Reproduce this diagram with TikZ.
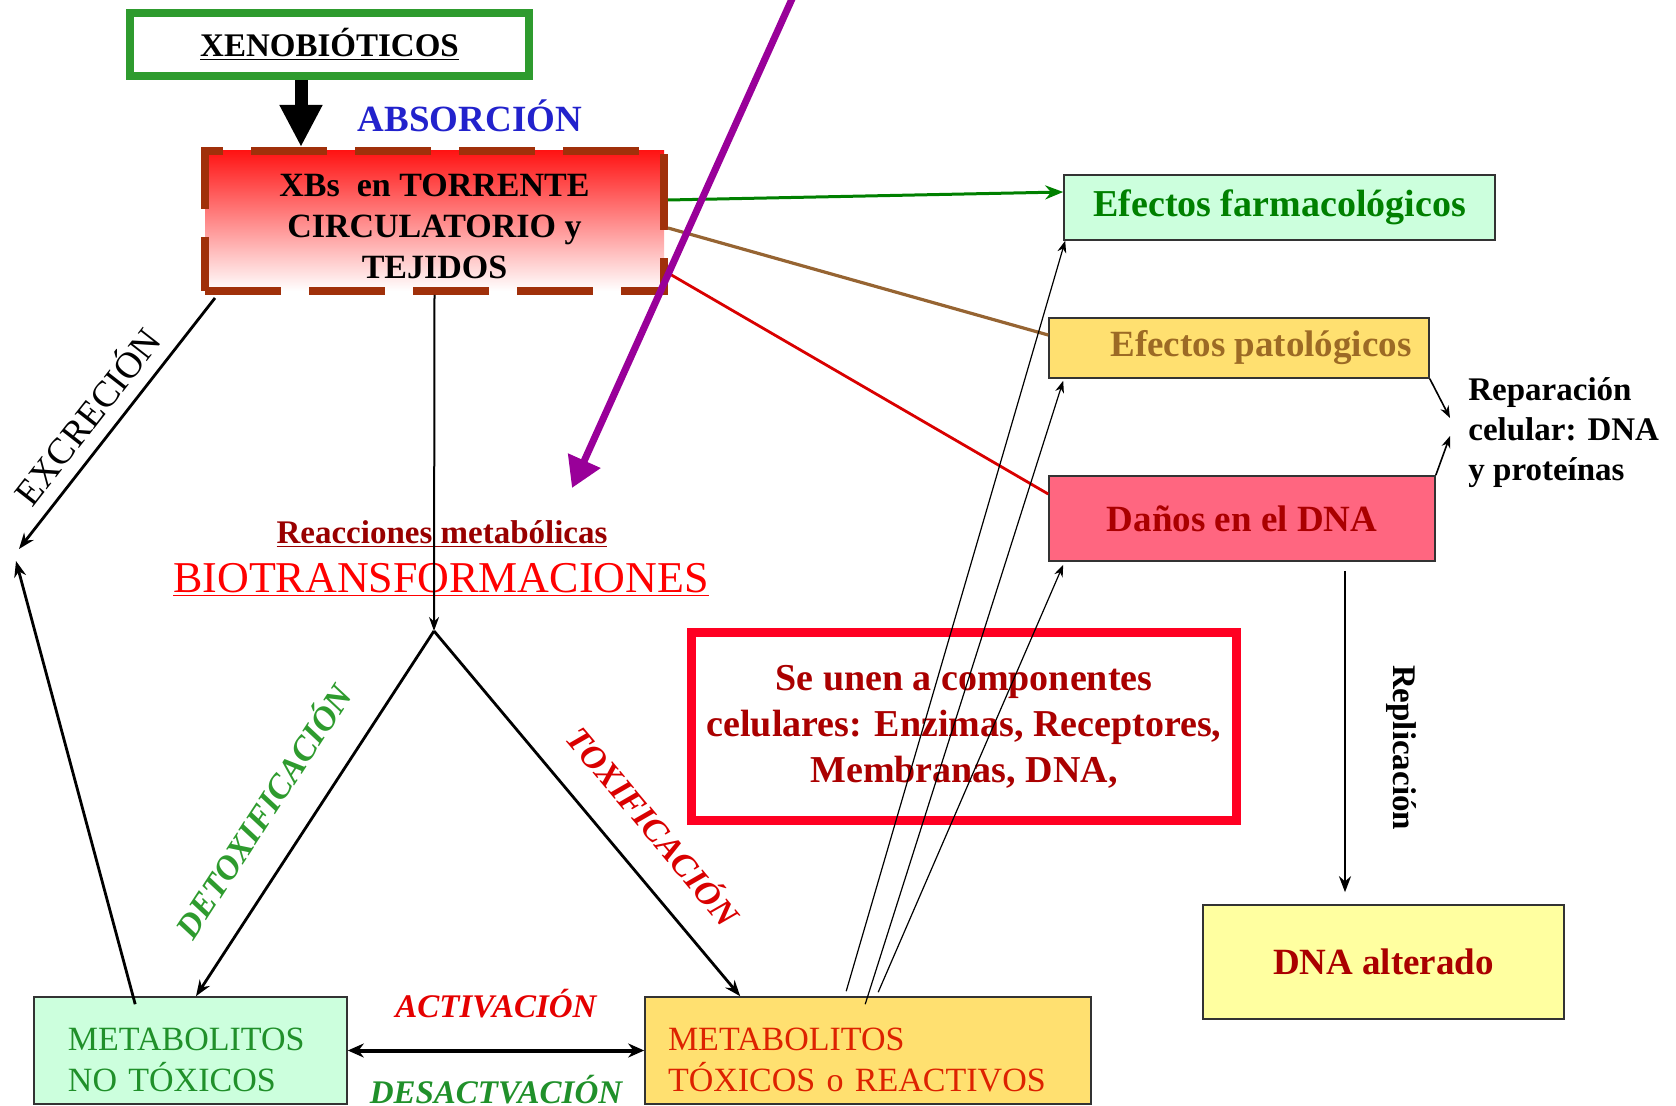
\documentclass[tikz,border=0pt]{standalone}
\usepackage{fontspec}
\setmainfont{Liberation Serif}
\usetikzlibrary{arrows.meta}

\definecolor{boxgreen}{RGB}{46,155,46}
\definecolor{absblue}{RGB}{34,34,204}
\definecolor{dashbrown}{RGB}{160,48,10}
\definecolor{mintfill}{RGB}{204,255,221}
\definecolor{goldfill}{RGB}{255,224,112}
\definecolor{pinkfill}{RGB}{255,102,128}
\definecolor{paleyellow}{RGB}{255,255,160}
\definecolor{darkred}{RGB}{170,0,0}
\definecolor{textgreen}{RGB}{0,128,0}
\definecolor{metagreen}{RGB}{32,144,42}
\definecolor{metared}{RGB}{221,34,0}
\definecolor{patobrown}{RGB}{156,106,37}
\definecolor{linebrown}{RGB}{150,100,50}
\definecolor{purplearrow}{RGB}{153,0,153}
\definecolor{boxred}{RGB}{255,0,34}
\definecolor{edgegray}{RGB}{51,51,51}

\tikzset{
  effect/.style={draw=edgegray, line width=0.8pt, inner sep=0pt, font=\fontsize{18.5}{22}\selectfont\bfseries},
  metabox/.style={draw=edgegray, line width=0.8pt, align=left, inner ysep=0pt, font=\fontsize{17}{20.5}\selectfont},
  thinarrow/.style={-{Stealth[length=6pt,width=4.5pt]}, line width=0.6pt},
  flowarrow/.style={-{Stealth[length=8pt,width=6pt]}, line width=1.4pt},
  pathlabel/.style={sloped, font=\fontsize{17}{20}\selectfont\bfseries\itshape},
}

\begin{document}
\begin{tikzpicture}[x=0.5pt, y=-0.5pt]
\useasboundingbox (0,0) rectangle (1676,1106);

\node[draw=boxgreen, line width=4pt, minimum width=199.5pt, minimum height=31.5pt, inner sep=0pt, font=\fontsize{16.5}{20}\selectfont\bfseries] (xeno) at (329.5,44.5) {\underline{XENOBIÓTICOS}};
\node[text=absblue, font=\fontsize{18.5}{22}\selectfont\bfseries] (absor) at (470,116) {ABSORCIÓN};
\node[draw=dashbrown, line width=4pt, dash pattern=on 38pt off 14pt, top color={rgb,255:red,255;green,20;blue,20}, middle color={rgb,255:red,255;green,160;blue,160}, bottom color=white, minimum width=229.5pt, minimum height=70pt, inner sep=0pt, align=center, font=\fontsize{17}{20.5}\selectfont\bfseries] (xbs) at (434.5,221) {\rule{0pt}{17pt}XBs\ \ en TORRENTE\\CIRCULATORIO y\\TEJIDOS};

\node[effect, fill=mintfill, text=textgreen, minimum width=215.5pt, minimum height=32.5pt, font=\fontsize{19}{22}\selectfont\bfseries] (farm) at (1279.5,207.5) {Efectos farmacológicos};
\node[effect, fill=goldfill, text=patobrown, minimum width=190pt, minimum height=30pt] (pato) at (1239,348) {\hspace*{22pt}Efectos patológicos};
\node[effect, fill=pinkfill, text=darkred, minimum width=193pt, minimum height=42.5pt] (danos) at (1242,518.5) {Daños en el DNA};
\node[anchor=west, inner sep=0pt, align=left, font=\fontsize{16.5}{20}\selectfont\bfseries] (repar) at (1468,433) {Reparación\\celular: DNA\\y proteínas};
\node[effect, fill=paleyellow, text=darkred, minimum width=180.5pt, minimum height=57pt] (dnaalt) at (1383.5,962) {DNA alterado};

\node[draw=boxred, line width=4.5pt, minimum width=272.5pt, minimum height=94pt, align=center, text=darkred, font=\fontsize{19}{23}\selectfont\bfseries] (seunen) at (964,726.5) {Se unen a componentes\\celulares: Enzimas, Receptores,\\Membranas, DNA,};

\node[text=darkred!90!black, font=\fontsize{16.5}{20}\selectfont\bfseries] (reac) at (442,534) {\underline{Reacciones metabólicas}};
\node[text=red, font=\fontsize{22}{26}\selectfont] (bio) at (441,580) {\underline{BIOTRANSFORMACIONES}};

\node[metabox, fill=mintfill, text=metagreen, minimum height=53.5pt, text width=122.5pt, inner xsep=17pt] (metano) at (190.5,1050.5) {\rule{0pt}{21pt}METABOLITOS\\NO TÓXICOS};
\node[metabox, fill=goldfill, text=metared, minimum height=53.5pt, text width=200pt, inner xsep=11.5pt] (metatox) at (868,1050.5) {\rule{0pt}{21pt}METABOLITOS\\TÓXICOS o REACTIVOS};

\coordinate (split) at (434,631);
\coordinate (excrout) at (19,549);
\coordinate (excrin) at (16,561);
\coordinate (ptop) at (796,-10);
\coordinate (ptip) at (572,488);

% absorcion
\draw[line width=6.5pt, -{Triangle[width=20pt,length=21pt]}] ([xshift=-14.25pt]xeno.south) -- ([xshift=-66.75pt]xbs.north);

% efectos
\draw[textgreen, line width=1.5pt, -{Stealth[length=9pt,width=7pt]}] ([yshift=10.5pt]xbs.east) -- ([yshift=7.75pt]farm.west);
\draw[linebrown, line width=1.6pt] ([yshift=-3.5pt]xbs.east) -- ([yshift=6.5pt]pato.west);
\draw[red!85!black, line width=1.4pt] ([yshift=-26pt]xbs.east) -- ([yshift=12.25pt]danos.west);

\draw[thinarrow, line width=0.8pt] (pato.south east) -- ([xshift=-9pt,yshift=7.5pt]repar.west);
\draw[thinarrow, line width=0.8pt] (danos.north east) -- ([xshift=-9pt,yshift=-1.5pt]repar.west);

\draw[line width=1.4pt, -{Stealth[length=8pt,width=6pt]}] ([xshift=51.5pt,yshift=-4.5pt]danos.south) -- ([xshift=-19.25pt,yshift=6pt]dnaalt.north)
  node[pos=0.55, rotate=-90, anchor=south, inner ysep=20pt, font=\fontsize{16.5}{20}\selectfont\bfseries] (repl) {Replicación};

% biotransformaciones
\draw[line width=1pt, -{Stealth[length=7pt,width=5pt]}] (xbs.south) -- (split);
\draw[flowarrow] (split) -- ([xshift=2.75pt]metano.north)
  node[pathlabel, pos=0.56, above=12pt, text=boxgreen] (detox) {DETOXIFICACIÓN};
\draw[flowarrow] (split) -- ([xshift=48pt]metatox.north west)
  node[pathlabel, pos=0.61, above=11pt, text=red!85!black] (tox) {TOXIFICACIÓN};

% excrecion
\draw[flowarrow] ([xshift=7pt,yshift=-1.5pt]xbs.south west) -- (excrout)
  node[sloped, pos=0.54, above=3pt, font=\fontsize{18.5}{22}\selectfont] (excr) {EXCRECIÓN};
\draw[flowarrow] ([xshift=51pt,yshift=-4pt]metano.north west) -- (excrin);

% activacion / desactivacion
\draw[line width=2pt, {Stealth[length=8pt,width=7pt]}-{Stealth[length=8pt,width=7pt]}] (metano.east) -- (metatox.west)
  node[midway, above=12pt, text=red!90!black, font=\fontsize{16.5}{20}\selectfont\bfseries\itshape] (activ) {ACTIVACIÓN}
  node[midway, below=8pt, text=metagreen, font=\fontsize{16.5}{20}\selectfont\bfseries\itshape] (desac) {DESACTVACIÓN};

% metabolitos reactivos hacia efectos
\draw[thinarrow] ([xshift=101pt,yshift=2.5pt]metatox.north west) -- ([xshift=1pt]farm.south west);
\draw[thinarrow] ([xshift=110.5pt,yshift=-4pt]metatox.north west) -- ([xshift=7.5pt,yshift=-1pt]pato.south west);
\draw[thinarrow] ([xshift=117pt,yshift=2pt]metatox.north west) -- ([xshift=7.5pt,yshift=-1.5pt]danos.south west);

\draw[purplearrow, line width=3.5pt, -{Triangle[width=17pt,length=15pt]}] (ptop) -- (ptip);

\end{tikzpicture}
\end{document}
